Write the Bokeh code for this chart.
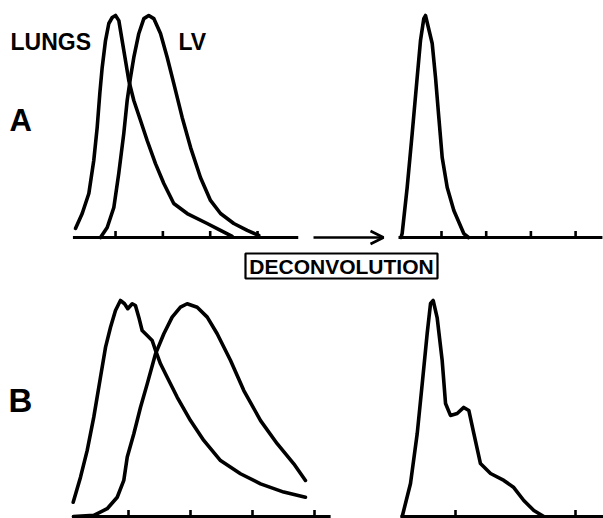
from bokeh.plotting import figure
from bokeh.models import Range1d, Label, BoxAnnotation, Arrow, OpenHead
from bokeh.embed import file_html
from bokeh.resources import INLINE

# ---------------- data (time in s, activity in % of peak) ----------------
# Panel A, left: input curves
a_lungs_t = [0.77, 1.48, 2.18, 2.70, 3.06, 3.34, 3.59, 3.94, 4.29, 4.65, 5.00, 5.35, 5.70, 6.05,
             6.40, 6.93, 7.64, 8.34, 9.22, 10.10, 11.15, 12.57, 14.68, 16.09, 17.32]
a_lungs_c = [4.1, 10.8, 19.8, 34.7, 49.5, 64.9, 76.6, 88.7, 96.4, 99.1, 100, 97.7, 88.7, 79.7,
             70.7, 61.7, 52.7, 43.7, 33.3, 24.3, 15.3, 10.8, 6.3, 3.2, 0.5]
a_lv_t = [3.41, 4.12, 4.82, 5.34, 5.87, 6.23, 6.58, 6.93, 7.46, 7.99, 8.51, 9.04, 9.75, 10.46,
          11.15, 12.04, 12.93, 13.97, 15.03, 16.09, 17.49, 18.91, 20.13]
a_lv_c = [0, 4.5, 13.5, 28.8, 46.8, 61.7, 72.1, 81.1, 91.9, 98.6, 100, 98.6, 91.9, 81.1,
          69.4, 54.1, 40.5, 27.0, 16.7, 10.8, 6.3, 3.2, 0.9]
# Panel A, right: deconvolved transfer function
a_dec_t = [0.47, 0.60, 1.16, 1.72, 2.28, 2.65, 3.02, 3.21, 3.96, 4.33, 4.70, 5.08, 5.64, 6.38, 7.49, 8.02]
a_dec_c = [0, 1.8, 22.5, 46.8, 72.1, 88.7, 98.6, 100, 87.4, 72.1, 54.1, 36.0, 22.5, 12.2, 1.8, 0]

# Panel B, left: input curves
b_lungs_t = [0.54, 1.13, 1.67, 2.20, 2.74, 3.15, 3.55, 3.95, 4.35, 4.68, 4.94, 5.30, 5.56, 5.83,
             6.10, 6.51, 6.91, 7.18, 7.58, 8.12, 8.93, 10.00, 11.07, 12.42, 14.03, 15.65, 17.52, 19.27]
b_lungs_c = [6.6, 18.2, 30.6, 46.0, 64.5, 78.4, 87.6, 95.4, 100, 98.5, 96.2, 98.5, 97.7, 92.3,
             86.1, 83.8, 81.5, 76.9, 70.7, 64.5, 55.2, 44.4, 35.2, 25.9, 19.8, 15.1, 11.3, 8.9]
b_lv_t = [0.56, 2.20, 3.28, 4.09, 4.62, 4.90, 5.43, 5.97, 6.51, 7.18, 7.85, 8.52, 9.19, 9.73,
          10.54, 11.35, 12.15, 13.23, 14.30, 15.65, 16.99, 18.33, 19.27]
b_lv_c = [0, 0.5, 3.6, 8.9, 16.7, 27.5, 38.3, 50.6, 61.4, 75.3, 84.6, 92.3, 96.9, 98.5,
          96.9, 92.3, 84.6, 72.2, 58.3, 44.4, 33.7, 24.4, 16.7]
# Panel B, right: deconvolved transfer function
b_dec_t = [0.56, 1.25, 1.81, 2.23, 2.64, 2.92, 3.14, 3.47, 3.89, 4.17, 4.58, 5.14, 5.69, 6.11,
           6.53, 7.08, 7.92, 9.03, 9.86, 10.69, 11.53, 12.36]
b_dec_c = [0, 15.3, 38.4, 61.6, 84.7, 98.6, 100, 92.1, 72.2, 52.3, 46.8, 47.7, 50.5, 49.1,
           38.4, 24.5, 19.9, 16.7, 13.4, 7.4, 2.8, 0]

# time axes: extent and tick values (s)
tl_axis = [0.5, 24.3]
tr_axis = [0.19, 23.0]
bl_axis = [0.48, 21.3]
br_axis = [0.42, 17.3]
tl_ticks = [5, 10, 15, 20]
tr_ticks = [5, 10, 15, 20]
bl_ticks = [5, 10, 15, 20]
br_ticks = [5, 15]

# ---------------- layout ----------------
W, H = 603, 518
X_LEFT, X_RIGHT = 0.0, 603.0
Y_TOP, Y_BOT = 0.0, 518.0

# panel placement: x = x0 + k*t, y = base - ky*c (in page pixels)
panels = {
    "tl": dict(x0=67.7, k=9.467, base=237.0, ky=2.22),
    "tr": dict(x0=396.3, k=8.94, base=237.0, ky=2.22),
    "bl": dict(x0=66.0, k=12.4, base=516.0, ky=2.16),
    "br": dict(x0=395.0, k=12.0, base=516.0, ky=2.16),
}

p = figure(width=W, height=H, x_range=Range1d(X_LEFT, X_RIGHT), y_range=Range1d(Y_BOT, Y_TOP),
           output_backend="svg", toolbar_location=None, min_border=0,
           x_axis_location=None, y_axis_location=None)
p.grid.visible = False
p.outline_line_color = None
p.background_fill_color = "white"
p.border_fill_color = "white"

for name, d in panels.items():
    p.extra_x_ranges[name] = Range1d((X_LEFT - d["x0"]) / d["k"], (X_RIGHT - d["x0"]) / d["k"])
    p.extra_y_ranges[name] = Range1d((d["base"] - Y_BOT) / d["ky"], (d["base"] - Y_TOP) / d["ky"])

LW = 3.6
def curve(t, c, name):
    p.line(t, c, x_range_name=name, y_range_name=name, line_color="black",
           line_width=LW, line_join="round", line_cap="round")

def time_axis(extent, ticks, name):
    d = panels[name]
    p.line(extent, [0, 0], x_range_name=name, y_range_name=name, line_color="black",
           line_width=3.0)
    p.segment(x0=ticks, y0=[0] * len(ticks), x1=ticks, y1=[6.5 / d["ky"]] * len(ticks),
              x_range_name=name, y_range_name=name, line_color="black", line_width=2.6)

time_axis(tl_axis, tl_ticks, "tl")
time_axis(tr_axis, tr_ticks, "tr")
time_axis(bl_axis, bl_ticks, "bl")
time_axis(br_axis, br_ticks, "br")

curve(a_lungs_t, a_lungs_c, "tl")
curve(a_lv_t, a_lv_c, "tl")
curve(a_dec_t, a_dec_c, "tr")
curve(b_lungs_t, b_lungs_c, "bl")
curve(b_lv_t, b_lv_c, "bl")
curve(b_dec_t, b_dec_c, "br")

# arrow between the top panels
p.add_layout(Arrow(x_start=313, y_start=237, x_end=383, y_end=237, line_width=2.6,
                   line_color="black",
                   end=OpenHead(size=13, line_width=2.6, line_color="black")))

# DECONVOLUTION box
p.add_layout(BoxAnnotation(left=245, right=437, top=253, bottom=278, fill_color="white",
                           fill_alpha=1, line_color="black", line_alpha=1, line_width=2.2,
                           level="overlay"))

FONT = "Liberation Sans"
BASELINE_SHIFT = 0.39  # label box offset observed with the SVG backend, in em

def lab(x, y, text, size, align="left"):
    p.add_layout(Label(x=x, y=y - BASELINE_SHIFT * size, text=text, text_font=FONT,
                       text_font_size=f"{size}px", text_font_style="bold",
                       text_color="black", text_align=align,
                       text_baseline="alphabetic", level="overlay"))

lab(10, 50, "LUNGS", 23)
lab(178, 50, "LV", 23)
lab(9, 132, "A", 31)
lab(8, 413, "B", 33)
lab(341, 274, "DECONVOLUTION", 21, align="center")

open("out.html", "w").write(file_html(p, INLINE))
